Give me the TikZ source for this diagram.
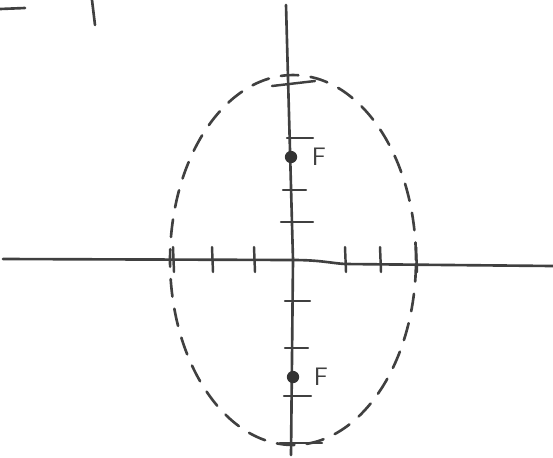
\documentclass[tikz,border=0pt]{standalone}
\usetikzlibrary{calc}

\tikzset{
  pen/.style={line width=1.5pt,black!75,line cap=round},
  tickmark/.style={pen,line width=1.4pt},
  focus/.style={circle,fill=black!80,inner sep=0pt,minimum size=7pt},
  flabel/.style={font=\sffamily\Large,text=black!75,inner sep=0pt}
}

\begin{document}
\begin{tikzpicture}[x=0.02cm,y=-0.02cm]
    \useasboundingbox (0,0) rectangle (553,457);
    % scraps in the top left corner
    \draw[pen] (0,9) -- (25,8);
    \draw[pen] (92,0) -- (95,25);
    % axes
    \coordinate (O) at (293,260);
    \draw[pen] (3,259) -- (O) .. controls (320,260) and (330,263) .. (345,264) -- (553,266);
    \draw[pen] (286,5) -- (O) -- (291,455);
    % ticks on the horizontal axis
    \foreach \tx in {173,212,254,345,380,416}
      \draw[tickmark] (\tx,247) -- (\tx+1,272);
    % ticks on the vertical axis
    \draw[tickmark] (272,86) -- (315,81);
    \foreach \ty/\ta/\tb in {138/287/313,190/283/306,222/281/313,301/285/310,348/285/308,396/284/311,443/280/322}
      \draw[tickmark] (\ta,\ty) -- (\tb,\ty);
    % ellipse
    \draw[pen,dash pattern=on 10pt off 7pt] (O) ellipse [x radius=2.46cm,y radius=3.7cm];
    % foci
    \node[focus] (f1) at (291,157) {};
    \node[focus] (f2) at (293,377) {};
    \node[flabel,right=8pt] (l1) at (f1.east) {F};
    \node[flabel,right=8pt] (l2) at (f2.east) {F};
\end{tikzpicture}
\end{document}
